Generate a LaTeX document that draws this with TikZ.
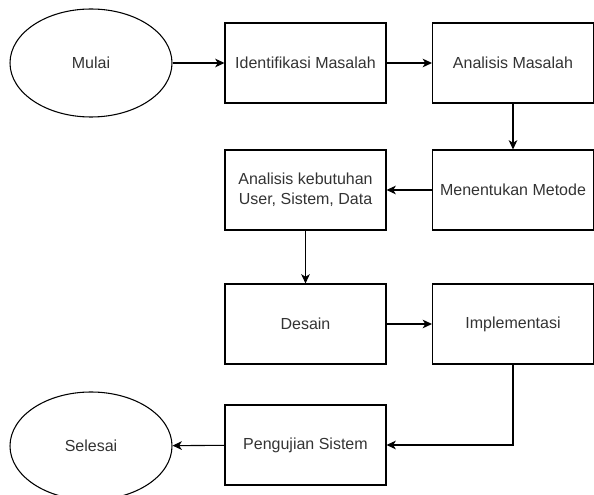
\documentclass[tikz,border=0pt]{standalone}
\usepackage{fontspec}
\setmainfont{Liberation Sans}
\usetikzlibrary{shapes.geometric,arrows.meta}

\begin{document}
\begin{tikzpicture}[x=0.75pt,y=0.75pt,yscale=-1,xscale=1,
  proses/.style={draw, line width=0.8pt, minimum width=120.75pt, minimum height=60pt, inner sep=0.75pt, align=center, font=\fontsize{12}{15}\selectfont, text=black!80},
  terminal/.style={draw, ellipse, line width=0.8pt, minimum width=121.5pt, minimum height=81pt, inner sep=0.75pt, font=\fontsize{12}{15}\selectfont, text=black!80},
  alur/.style={-{Stealth[length=7pt,width=6.5pt,inset=2pt]}, line width=0.8pt}]
%set diagram left start at 0, and has height of 495
\useasboundingbox (0,0) rectangle (594,495);

%Shape: Ellipse [id:mulai]
\draw (91,63) node [terminal] (mulai) {Mulai};
%Shape: Rectangle [id:identifikasi]
\draw (305.5,63) node [proses] (identifikasi) {Identifikasi Masalah};
%Shape: Rectangle [id:analisis]
\draw (513,63) node [proses] (analisis) {Analisis Masalah};
%Shape: Rectangle [id:metode]
\draw (513,190) node [proses] (metode) {Menentukan Metode};
%Shape: Rectangle [id:kebutuhan]
\draw (305.5,190) node [proses] (kebutuhan) {Analisis kebutuhan\\User, Sistem, Data};
%Shape: Rectangle [id:desain]
\draw (305.5,324) node [proses] (desain) {Desain};
%Shape: Rectangle [id:implementasi]
\draw (513,324) node [proses] (implementasi) {Implementasi};
%Shape: Rectangle [id:pengujian]
\draw (305.5,445) node [proses] (pengujian) {Pengujian Sistem};
%Shape: Ellipse [id:selesai]
\draw (91,446) node [terminal] (selesai) {Selesai};

%Straight Lines
\draw [alur] (mulai) -- (identifikasi);
\draw [alur] (identifikasi) -- (analisis);
\draw [alur] (analisis) -- (metode);
\draw [alur] (metode) -- (kebutuhan);
\draw [alur] (kebutuhan) -- (desain);
\draw [alur] (desain) -- (implementasi);
\draw [alur] (implementasi.south) |- (pengujian.east);
\draw [alur] (pengujian) -- (selesai);

\end{tikzpicture}
\end{document}
